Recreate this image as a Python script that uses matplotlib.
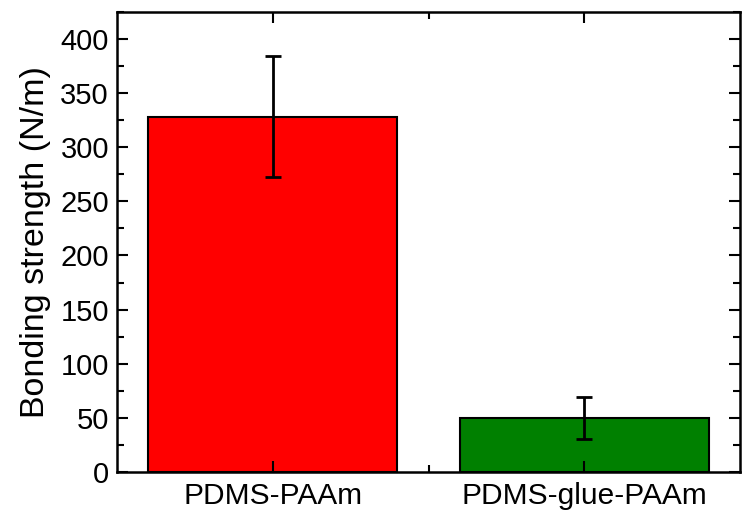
import numpy as np
import matplotlib.pyplot as plt

plt.rcParams['font.family'] = ['Liberation Sans', 'DejaVu Sans']

# Data
labels = ['PDMS-PAAm', 'PDMS-glue-PAAm']
strength = [328, 50]
err = [56, 19.5]
colors = ['#ff0000', '#008000']

fig = plt.figure(figsize=(7.42, 5.12), dpi=100)
ax = fig.add_axes([0.158, 0.078, 0.839, 0.899])

x = np.arange(1, len(labels) + 1)
ax.bar(x, strength, width=0.8, color=colors, edgecolor='black', linewidth=1.5,
       yerr=err, error_kw=dict(ecolor='black', elinewidth=2, capsize=6, capthick=2))

ax.set_xlim(0.5, 2.5)
ax.set_ylim(0, 425)
ax.set_yticks(np.arange(0, 401, 50))
ax.set_yticks(np.arange(0, 426, 25), minor=True)
ax.set_xticks(x)
ax.set_xticks([1.5], minor=True)
ax.set_xticklabels(labels)

ax.tick_params(which='both', direction='in', top=True, right=True, width=1.5)
ax.tick_params(which='major', length=8)
ax.tick_params(which='minor', length=5)
ax.tick_params(axis='y', labelsize=21, pad=6)
ax.tick_params(axis='x', labelsize=21.5, pad=7)
for s in ax.spines.values():
    s.set_linewidth(1.8)

ax.set_ylabel('Bonding strength (N/m)', fontsize=24.5, labelpad=7)

fig.savefig('out.png', dpi=100)
